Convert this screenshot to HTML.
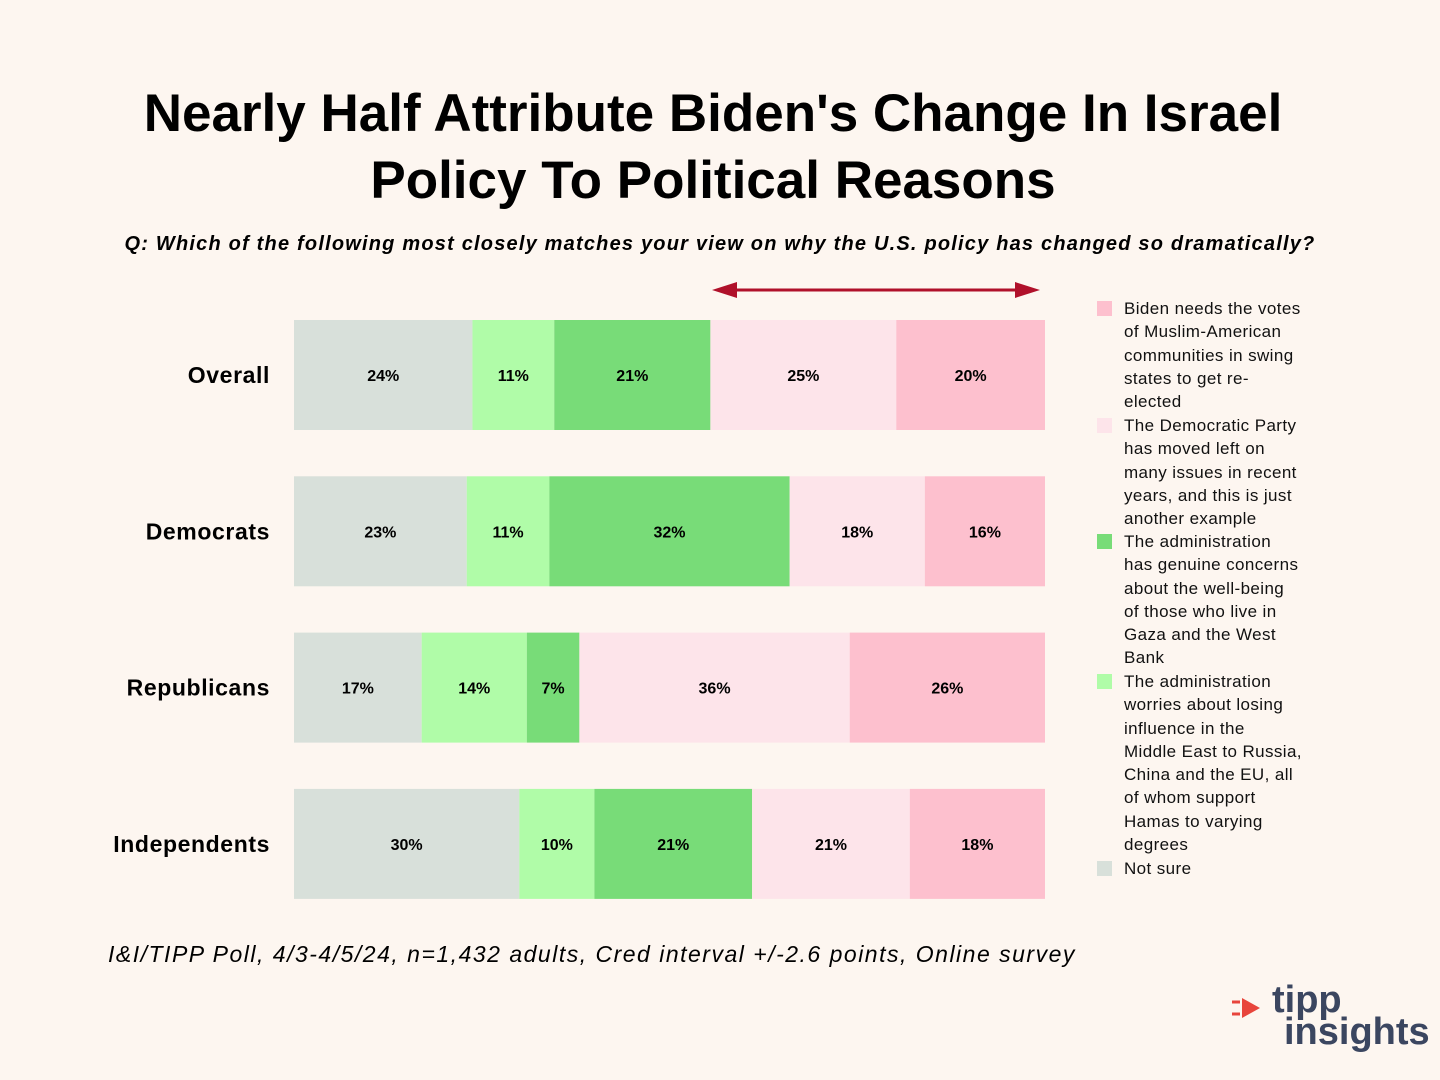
<!DOCTYPE html>
<html><head><meta charset="utf-8"><style>
body{margin:0;background:#fdf6f0;font-family:"Liberation Sans","DejaVu Sans",sans-serif;}
#root{position:relative;width:1440px;height:1080px;background:#fdf6f0;overflow:hidden}
.t{position:absolute;left:0;width:1426px;text-align:center;font-weight:bold;font-size:53px;color:#000}
.sub{position:absolute;left:0;width:1440px;text-align:center;top:233px;font-size:20px;font-style:italic;font-weight:bold;letter-spacing:1.2px}
.foot{position:absolute;left:108px;top:941px;font-size:23px;font-style:italic;letter-spacing:1.5px}
.leg{position:absolute;left:1097px;font-size:17px;line-height:23.3px;color:#111;letter-spacing:0.4px}
.leg .sw{position:absolute;left:0;top:4px;width:15px;height:15px}
.leg .tx{position:absolute;left:27px;width:260px;white-space:nowrap}
</style></head><body>
<div id="root">
<div class="t" style="top:83px">Nearly Half Attribute Biden's Change In Israel</div>
<div class="t" style="top:150px">Policy To Political Reasons</div>
<div class="sub">Q: Which of the following most closely matches your view on why the U.S. policy has changed so dramatically?</div>
<svg id="svg" width="1440" height="1080" style="position:absolute;left:0;top:0">
<line x1="730" y1="290" x2="1022" y2="290" stroke="#b0102a" stroke-width="3"/>
<polygon points="712,290 737,282 737,298" fill="#b0102a"/>
<polygon points="1040,290 1015,282 1015,298" fill="#b0102a"/>
</svg>
<div class="foot">I&amp;I/TIPP Poll, 4/3-4/5/24, n=1,432 adults, Cred interval +/-2.6 points, Online survey</div>
<div id="legend"></div>
<div style="position:absolute;left:1232px;top:985px;width:200px;height:80px">
<svg width="40" height="40" style="position:absolute;left:0;top:5px"><polygon points="10,8 28,18 10,28" fill="#e8453c"/><line x1="0" y1="12" x2="8" y2="12" stroke="#e8453c" stroke-width="3"/><line x1="0" y1="24" x2="8" y2="24" stroke="#e8453c" stroke-width="3"/></svg>
<div style="position:absolute;left:40px;top:-6px;font-size:38px;font-weight:bold;color:#3b4660">tipp</div>
<div style="position:absolute;left:52px;top:26px;font-size:38px;font-weight:bold;color:#3b4660">insights</div>
</div>
</div>
<script>
const categories=["Overall","Democrats","Republicans","Independents"];
const notSure=[24,23,17,30];
const worries=[11,11,14,10];
const genuine=[21,32,7,21];
const movedLeft=[25,18,36,21];
const votes=[20,16,26,18];
const seriesNames=["Not sure","The administration<br>worries about losing<br>influence in the<br>Middle East to Russia,<br>China and the EU, all<br>of whom support<br>Hamas to varying<br>degrees","The administration<br>has genuine concerns<br>about the well-being<br>of those who live in<br>Gaza and the West<br>Bank","The Democratic Party<br>has moved left on<br>many issues in recent<br>years, and this is just<br>another example","Biden needs the votes<br>of Muslim-American<br>communities in swing<br>states to get re-<br>elected"];
const colors=["#d8e0da","#b0fca8","#78dc78","#fde4ea","#fdc0ce"];
const series=[notSure,worries,genuine,movedLeft,votes];
const NS="http://www.w3.org/2000/svg";
const svg=document.getElementById('svg');
const x0=294,x1=1045,rowTop=320,rowStep=156.3,barH=110;
categories.forEach((c,i)=>{
  const total=series.reduce((s,a)=>s+a[i],0);
  const y=rowTop+i*rowStep;
  const lab=document.createElementNS(NS,'text');
  lab.setAttribute('x',270);lab.setAttribute('y',y+barH/2+8);lab.setAttribute('text-anchor','end');
  lab.setAttribute('font-size','23');lab.setAttribute('font-weight','bold');lab.setAttribute('letter-spacing','0.6');lab.textContent=c;
  
  
  svg.appendChild(lab);
  let acc=0;
  series.forEach((s,k)=>{
    const xa=x0+(x1-x0)*acc/total,xb=x0+(x1-x0)*(acc+s[i])/total;acc+=s[i];
    const r=document.createElementNS(NS,'rect');
    r.setAttribute('x',xa);r.setAttribute('y',y);r.setAttribute('width',xb-xa);r.setAttribute('height',barH);r.setAttribute('fill',colors[k]);
    
    
    svg.appendChild(r);
    const t=document.createElementNS(NS,'text');
    t.setAttribute('x',(xa+xb)/2);t.setAttribute('y',y+barH/2+6);t.setAttribute('text-anchor','middle');
    t.setAttribute('font-size','16');t.setAttribute('font-weight','bold');t.textContent=s[i]+'%';
    
    
    svg.appendChild(t);
  });
});
const leg=document.getElementById('legend');
const legTops=[297,414,530,670,857];
[4,3,2,1,0].forEach((k,j)=>{
  const d=document.createElement('div');d.className='leg';d.style.top=legTops[j]+'px';
  
  
  d.innerHTML='<div class="sw" style="background:'+colors[k]+'"></div><div class="tx">'+seriesNames[k]+'</div>';
  leg.appendChild(d);
});
</script>
</body></html>
